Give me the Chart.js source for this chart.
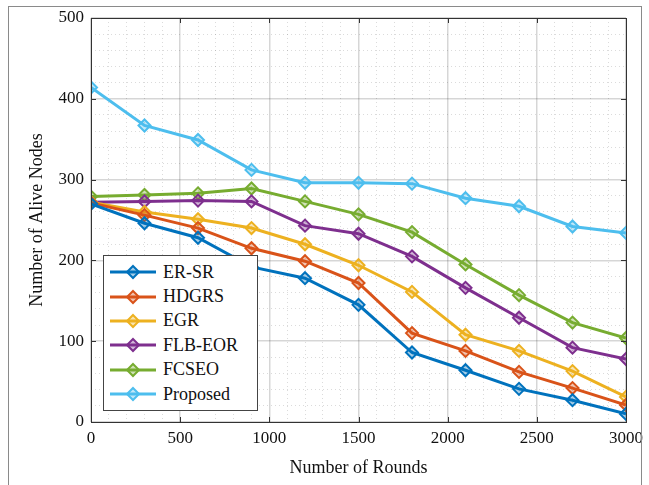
<!DOCTYPE html>
<html>
<head>
<meta charset="utf-8">
<script src="https://cdn.jsdelivr.net/npm/chart.js@4.4.0/dist/chart.umd.min.js"></script>
<style>
  html, body { margin: 0; padding: 0; background: #fff; }
  #wrap { position: relative; width: 649px; height: 485px; }
  #frame { position: absolute; left: 8px; top: 6px; width: 634px; height: 490px; border: 1px solid #8a8a8a; box-sizing: border-box; pointer-events: none; }
  #legend { position: absolute; left: 103px; top: 255px; width: 155px; height: 156px; border: 1px solid #444; background: #fff; box-sizing: border-box; padding-top: 4px; font-family: "Liberation Serif", serif; font-size: 18px; color: #111; }
  #legend .row { height: 24.4px; display: flex; align-items: center; }
  #legend svg { margin-left: 4px; margin-right: 5px; flex: none; }
</style>
</head>
<body>
<div id="wrap">
  <canvas id="aliveNodesChart" width="649" height="485"></canvas>
  <div id="frame"></div>
  <div id="legend"></div>
</div>
<script>
// round numbers on the x axis
const rounds = [0, 300, 600, 900, 1200, 1500, 1800, 2100, 2400, 2700, 3000];

// alive nodes per protocol
const erSr = [270, 246, 228, 192, 178, 145, 86, 64, 41, 27, 10];
const hdgrs = [271, 256, 240, 215, 199, 172, 110, 88, 62, 42, 21];
const egr = [272, 260, 251, 240, 220, 194, 161, 108, 88, 63, 31];
const flbEor = [272, 273, 274, 273, 243, 233, 205, 166, 129, 92, 78];
const fcseo = [279, 281, 283, 289, 273, 257, 235, 195, 157, 123, 104];
const proposed = [414, 367, 349, 312, 296, 296, 295, 277, 267, 242, 234];

const seriesNames = ['ER-SR', 'HDGRS', 'EGR', 'FLB-EOR', 'FCSEO', 'Proposed'];
const seriesValues = [erSr, hdgrs, egr, flbEor, fcseo, proposed];
const seriesColors = ['#0072BD', '#D95319', '#EDB120', '#7E2F8E', '#77AC30', '#4DBEEE'];

function fade(hex, a) {
    const n = parseInt(hex.slice(1), 16);
    return 'rgba(' + (n >> 16) + ',' + ((n >> 8) & 255) + ',' + (n & 255) + ',' + a + ')';
}

const datasets = seriesNames.map((name, i) => ({
    label: name,
    data: rounds.map((r, j) => ({ x: r, y: seriesValues[i][j] })),
    borderColor: seriesColors[i],
    backgroundColor: fade(seriesColors[i], 0.35),
    borderWidth: 3,
    pointStyle: 'rectRot',
    pointRadius: 6,
    pointBorderWidth: 2,
    tension: 0
}));

const tickFont = { family: '"Liberation Serif", serif', size: 17 };
const titleFont = { family: '"Liberation Serif", serif', size: 18 };

// major grid solid, minor grid dotted
function gridColor(major) {
    return ctx => (ctx.tick && ctx.tick.value % major === 0) ? 'rgba(0,0,0,0.16)' : 'rgba(0,0,0,0.14)';
}
function gridWidth(major) {
    return ctx => (ctx.tick && ctx.tick.value % major === 0) ? 1.5 : 1;
}
function gridDash(major) {
    return ctx => (ctx.tick && ctx.tick.value % major !== 0) ? [1, 3] : [];
}

const boxPlugin = {
    id: 'box',
    afterDatasetsDraw(chart) {
        const { ctx, chartArea: a } = chart;
        ctx.save();
        ctx.strokeStyle = '#333';
        ctx.lineWidth = 1;
        ctx.strokeRect(a.left + 0.5, a.top + 0.5, a.right - a.left, a.bottom - a.top);
        // inward tick marks
        ctx.beginPath();
        for (let v = 0; v <= 3000; v += 500) {
            const x = Math.round(chart.scales.x.getPixelForValue(v)) + 0.5;
            ctx.moveTo(x, a.bottom); ctx.lineTo(x, a.bottom - 5);
            ctx.moveTo(x, a.top); ctx.lineTo(x, a.top + 5);
        }
        for (let v = 0; v <= 500; v += 100) {
            const y = Math.round(chart.scales.y.getPixelForValue(v)) + 0.5;
            ctx.moveTo(a.left, y); ctx.lineTo(a.left + 5, y);
            ctx.moveTo(a.right, y); ctx.lineTo(a.right - 5, y);
        }
        ctx.stroke();
        ctx.restore();
    }
};

const chart = new Chart(document.getElementById('aliveNodesChart').getContext('2d'), {
    type: 'line',
    data: { datasets: datasets },
    options: {
        responsive: false,
        animation: false,
        layout: { padding: { left: 26, top: 18, right: 22, bottom: 6 } },
        plugins: { legend: { display: false }, tooltip: { enabled: false } },
        scales: {
            x: {
                type: 'linear',
                min: 0,
                max: 3000,
                afterFit: s => { s.height = 485 - 422 - 6; },
                ticks: {
                    stepSize: 100,
                    autoSkip: false,
                    maxRotation: 0,
                    padding: 6,
                    color: '#111',
                    font: tickFont,
                    callback: v => (v % 500 === 0 ? v : '')
                },
                grid: { drawTicks: false, color: gridColor(500), lineWidth: gridWidth(500) },
                border: { display: false, dash: gridDash(500) },
                title: { display: true, text: 'Number of Rounds', color: '#111', font: titleFont, padding: { top: 4, bottom: 0 } }
            },
            y: {
                min: 0,
                max: 500,
                afterFit: s => { s.width = 91 - 26; },
                ticks: {
                    stepSize: 20,
                    autoSkip: false,
                    padding: 7,
                    color: '#111',
                    font: tickFont,
                    callback: v => (v % 100 === 0 ? v : '')
                },
                grid: { drawTicks: false, color: gridColor(100), lineWidth: gridWidth(100) },
                border: { display: false, dash: gridDash(100) },
                title: { display: true, text: 'Number of Alive Nodes', color: '#111', font: titleFont, padding: { top: 0, bottom: 0 } }
            }
        }
    },
    plugins: [boxPlugin]
});

// legend box inside the plot, built from the datasets
const legendEl = document.getElementById('legend');
chart.data.datasets.forEach(ds => {
    const row = document.createElement('div');
    row.className = 'row';
    row.innerHTML =
        '<svg width="50" height="16" viewBox="0 0 50 16">' +
        '<line x1="2" y1="8" x2="48" y2="8" stroke="' + ds.borderColor + '" stroke-width="3"/>' +
        '<polygon points="25,2 31,8 25,14 19,8" fill="' + ds.backgroundColor + '" stroke="' + ds.borderColor + '" stroke-width="2"/>' +
        '</svg><span>' + ds.label + '</span>';
    legendEl.appendChild(row);
});
</script>
</body>
</html>
